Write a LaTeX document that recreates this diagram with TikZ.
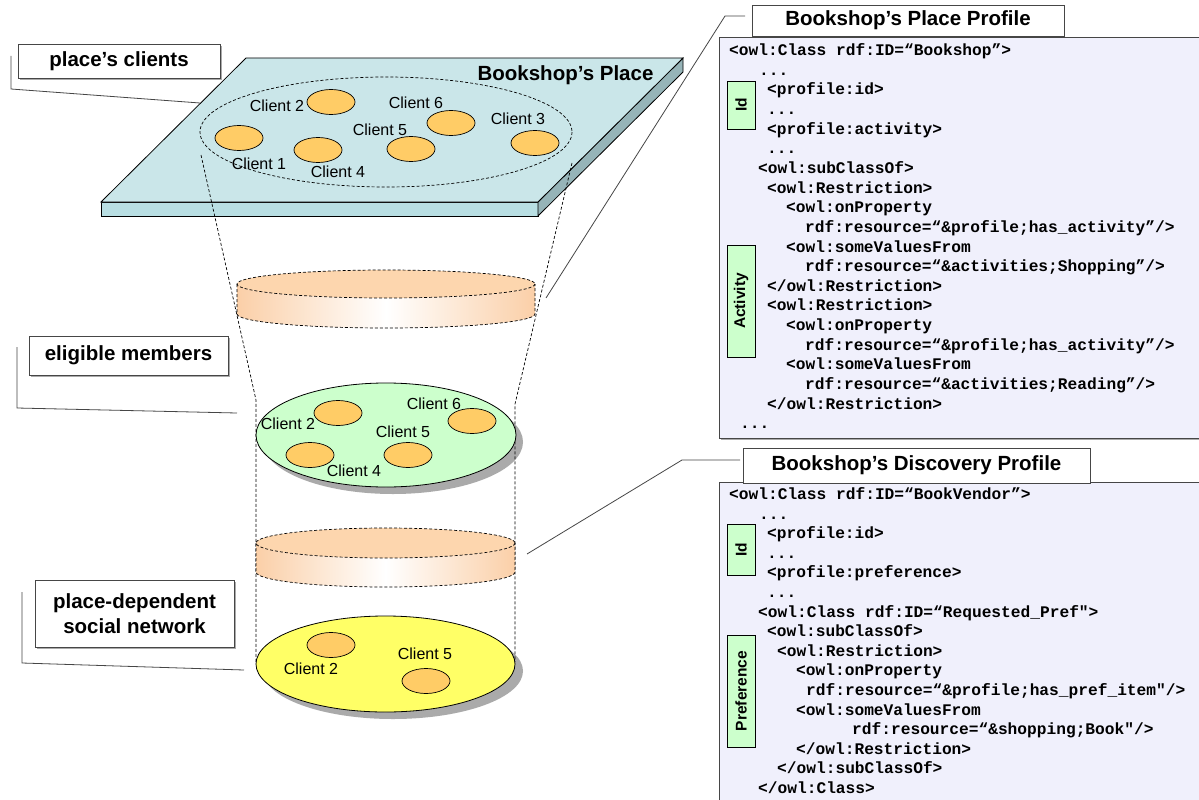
\documentclass[tikz,border=0pt]{standalone}
\usepackage{fontspec}
\setmainfont{Liberation Sans}
\newfontfamily\codefont{Liberation Mono}
\usetikzlibrary{shapes.geometric}

\definecolor{platetop}{RGB}{202,230,233}
\definecolor{platefront}{RGB}{185,223,227}
\definecolor{plateside}{RGB}{150,180,184}
\definecolor{clientfill}{RGB}{255,204,102}
\definecolor{diskface}{RGB}{253,214,174}
\definecolor{diskedge}{RGB}{249,192,140}
\definecolor{eligfill}{RGB}{204,255,204}
\definecolor{netfill}{RGB}{255,255,102}
\definecolor{panelfill}{RGB}{240,240,252}
\definecolor{tagfill}{RGB}{204,255,204}
\definecolor{shadowgray}{RGB}{170,170,170}
\definecolor{edgegray}{RGB}{70,70,70}

\pgfdeclarehorizontalshading{diskside}{100bp}{color(0bp)=(diskedge); color(22bp)=(diskedge!85!white); color(50bp)=(white); color(78bp)=(diskedge!85!white); color(100bp)=(diskedge)}

% cylinder slice: centre x, centre y of the top face, x radius, y radius, height
\newcommand{\drawdisk}[5]{%
  \path[shading=diskside] ({#1-#3},#2) -- ({#1-#3},{#2+#5})
     arc[start angle=180,end angle=0,x radius=#3,y radius=#4]
     -- ({#1+#3},#2) arc[start angle=0,end angle=180,x radius=#3,y radius=#4] -- cycle;
  \fill[diskface] (#1,#2) ellipse[x radius=#3,y radius=#4];
  \draw[funnel] (#1,#2) ellipse[x radius=#3,y radius=#4];
  \draw[funnel] ({#1-#3},#2) -- ({#1-#3},{#2+#5})
     arc[start angle=180,end angle=0,x radius=#3,y radius=#4] -- ({#1+#3},#2);
}

\begin{document}
\begin{tikzpicture}[x=1pt,y=-1pt,
  outline/.style={draw=black,line width=0.8pt},
  funnel/.style={draw=black,line width=0.7pt,dash pattern=on 3pt off 2pt},
  leader/.style={draw=edgegray,line width=0.8pt},
  clientdisk/.style={ellipse,draw=black,line width=0.7pt,fill=clientfill,
     minimum width=48pt,minimum height=25pt,inner sep=0pt},
  clientlbl/.style={inner sep=0pt,font=\fontsize{16}{18}\selectfont},
  labelbox/.style={draw=edgegray,line width=0.8pt,fill=white,inner sep=0pt,align=center,
     font=\bfseries\fontsize{20.5}{25}\selectfont},
  titlebox/.style={draw=edgegray,line width=0.8pt,fill=white,inner sep=0pt,
     font=\bfseries\fontsize{20.5}{24}\selectfont},
  tagbox/.style={draw=black,line width=0.7pt,fill=tagfill,inner sep=0pt,rotate=90,
     minimum height=28pt,font=\bfseries\fontsize{15.5}{18}\selectfont},
  codeln/.style={anchor=base west,inner sep=0pt,
     font=\codefont\bfseries\fontsize{16.2}{19}\selectfont},
  panel/.style={draw=edgegray,line width=0.8pt,fill=panelfill}
]
\useasboundingbox (0,0) rectangle (1199,800);
\clip (0,0) rectangle (1199,800);
\fill[white] (0,0) rectangle (1199,800);

% ---------------- the place plate ----------------
\filldraw[outline,fill=platefront] (101,202) rectangle (538,216);
\filldraw[outline,fill=plateside] (538,202) -- (683,58) -- (683,72) -- (538,216) -- cycle;
\filldraw[outline,fill=platetop] (246,58) -- (683,58) -- (538,202) -- (101,202) -- cycle;
\draw[funnel] (386,132) ellipse[x radius=186,y radius=55];
\node[inner sep=0pt,font=\bfseries\fontsize{20.5}{24}\selectfont] (plname) at (565.5,75) {Bookshop’s Place};

\node[clientdisk] (pc1) at (239,138) {};
\node[clientdisk] (pc2) at (331,102) {};
\node[clientdisk] (pc4) at (318,150) {};
\node[clientdisk] (pc5) at (411,149) {};
\node[clientdisk] (pc6) at (451,123) {};
\node[clientdisk] (pc3) at (535,143) {};
\node[clientlbl] (pl1) at (259,164) {Client 1};
\node[clientlbl] (pl2) at (277,106) {Client 2};
\node[clientlbl] (pl4) at (338,172) {Client 4};
\node[clientlbl] (pl5) at (380,130) {Client 5};
\node[clientlbl] (pl6) at (416,103) {Client 6};
\node[clientlbl] (pl3) at (518,119) {Client 3};

% ---------------- shadows of the member sets ----------------
\fill[shadowgray] (393,442) ellipse[x radius=130,y radius=52];
\fill[shadowgray] (393,671) ellipse[x radius=130,y radius=48];

% ---------------- funnel ----------------
\coordinate (fl1) at (201,155);
\coordinate (fl2) at (256,400);
\coordinate (fl3) at (256,662);
\coordinate (fr1) at (572,163);
\coordinate (fr2) at (515,404);
\coordinate (fr3) at (515,662);
\draw[funnel] (fl1) -- (fl2) -- (fl3);
\draw[funnel] (fr1) -- (fr2) -- (fr3);

% ---------------- filter slices and member sets ----------------
\drawdisk{386}{284}{149}{14}{30}

\node[ellipse,draw=black,line width=0.8pt,fill=eligfill,minimum width=260pt,minimum height=104pt,inner sep=0pt] (elig) at (386,435) {};
\node[clientdisk] (ec2) at (338,413) {};
\node[clientdisk] (ec6) at (472,421) {};
\node[clientdisk] (ec4) at (310,455) {};
\node[clientdisk] (ec5) at (408,455) {};
\node[clientlbl] (el2) at (288,424) {Client 2};
\node[clientlbl] (el6) at (434,404) {Client 6};
\node[clientlbl] (el5) at (403,432) {Client 5};
\node[clientlbl] (el4) at (354,471) {Client 4};

\drawdisk{385.5}{543}{129.5}{15}{29}

\node[ellipse,draw=black,line width=0.8pt,fill=netfill,minimum width=259pt,minimum height=96pt,inner sep=0pt] (net) at (385.5,664) {};
\node[clientdisk] (nc2) at (331,645) {};
\node[clientdisk] (nc5) at (426,681) {};
\node[clientlbl] (nl2) at (311,669) {Client 2};
\node[clientlbl] (nl5) at (425,654) {Client 5};

% ---------------- left labels ----------------
\fill[shadowgray] (20,46) rectangle (222,80);
\node[labelbox,minimum width=202pt,minimum height=34pt] (lblclients) at (119,61) {place’s clients};
\fill[shadowgray] (31,338) rectangle (230,377);
\node[labelbox,minimum width=199pt,minimum height=39pt] (lblelig) at (128.5,355.5) {eligible members};
\fill[shadowgray] (37,582) rectangle (236,649);
\node[labelbox,minimum width=199pt,minimum height=67pt] (lblnet) at (134.5,613.5) {place-dependent\\social network};

\coordinate (la1) at (11,56);  \coordinate (la2) at (11,89);  \coordinate (la3) at (200,103);
\coordinate (lb1) at (17,347); \coordinate (lb2) at (17,408); \coordinate (lb3) at (237,413);
\coordinate (lc1) at (22,592); \coordinate (lc2) at (22,663); \coordinate (lc3) at (244,670);
\draw[leader] (la1) -- (la2) -- (la3);
\draw[leader] (lb1) -- (lb2) -- (lb3);
\draw[leader] (lc1) -- (lc2) -- (lc3);

% ---------------- place profile ----------------
\fill[shadowgray] (721,39) rectangle (1215,440);
\draw[panel] (719,37) rectangle (1213,438);
\node[titlebox,minimum width=312pt,minimum height=31pt] (ttlplace) at (908,20.5) {Bookshop’s Place Profile};
\coordinate (lp1) at (745,16); \coordinate (lp2) at (725,16); \coordinate (lp3) at (546,298);
\draw[leader] (lp1) -- (lp2) -- (lp3);

\node[tagbox,minimum width=48pt] (tagid1) at (741,105) {Id};
\node[tagbox,minimum width=112pt] (tagact) at (741,301) {Activity};

\node[codeln] (t0)  at (729,55.5)   {<owl:Class rdf:ID=“Bookshop”>};
\node[codeln] (t1)  at (759,75.15)  {...};
\node[codeln] (t2)  at (767,94.8)   {<profile:id>};
\node[codeln] (t3)  at (767,114.45) {...};
\node[codeln] (t4)  at (767,134.1)  {<profile:activity>};
\node[codeln] (t5)  at (767,153.75) {...};
\node[codeln] (t6)  at (758,173.4)  {<owl:subClassOf>};
\node[codeln] (t7)  at (767,193.05) {<owl:Restriction>};
\node[codeln] (t8)  at (786,212.7)  {<owl:onProperty};
\node[codeln] (t9)  at (805,232.35) {rdf:resource=“\&profile;has\_activity”/>};
\node[codeln] (t10) at (786,252.0)  {<owl:someValuesFrom};
\node[codeln] (t11) at (805,271.65) {rdf:resource=“\&activities;Shopping”/>};
\node[codeln] (t12) at (767,291.3)  {</owl:Restriction>};
\node[codeln] (t13) at (767,310.95) {<owl:Restriction>};
\node[codeln] (t14) at (786,330.6)  {<owl:onProperty};
\node[codeln] (t15) at (805,350.25) {rdf:resource=“\&profile;has\_activity”/>};
\node[codeln] (t16) at (786,369.9)  {<owl:someValuesFrom};
\node[codeln] (t17) at (805,389.55) {rdf:resource=“\&activities;Reading”/>};
\node[codeln] (t18) at (767,409.2)  {</owl:Restriction>};
\node[codeln] (t19) at (740,428.85) {...};

% ---------------- discovery profile ----------------
\fill[shadowgray] (721,484) rectangle (1215,812);
\draw[panel] (719,482) rectangle (1213,810);
\node[titlebox,minimum width=347pt,minimum height=35pt] (ttldisc) at (916.5,465.5) {Bookshop’s Discovery Profile};
\coordinate (ld1) at (740,460); \coordinate (ld2) at (682,460); \coordinate (ld3) at (527,554);
\draw[leader] (ld1) -- (ld2) -- (ld3);

\node[tagbox,minimum width=51pt] (tagid2) at (741,549.5) {Id};
\node[tagbox,minimum width=112pt] (tagpref) at (741,691) {Preference};

\node[codeln] (b0)  at (729,499.5) {<owl:Class rdf:ID=“BookVendor”>};
\node[codeln] (b1)  at (759,519.1) {...};
\node[codeln] (b2)  at (767,538.7) {<profile:id>};
\node[codeln] (b3)  at (767,558.3) {...};
\node[codeln] (b4)  at (767,577.9) {<profile:preference>};
\node[codeln] (b5)  at (767,597.5) {...};
\node[codeln] (b6)  at (758,617.1) {<owl:Class rdf:ID=“Requested\_Pref">};
\node[codeln] (b7)  at (767,636.7) {<owl:subClassOf>};
\node[codeln] (b8)  at (777,656.3) {<owl:Restriction>};
\node[codeln] (b9)  at (796,675.9) {<owl:onProperty};
\node[codeln] (b10) at (806,695.5) {rdf:resource=“\&profile;has\_pref\_item"/>};
\node[codeln] (b11) at (796,715.1) {<owl:someValuesFrom};
\node[codeln] (b12) at (852,734.7) {rdf:resource=“\&shopping;Book"/>};
\node[codeln] (b13) at (796,754.3) {</owl:Restriction>};
\node[codeln] (b14) at (777,773.9) {</owl:subClassOf>};
\node[codeln] (b15) at (758,793.5) {</owl:Class>};
\end{tikzpicture}
\end{document}
